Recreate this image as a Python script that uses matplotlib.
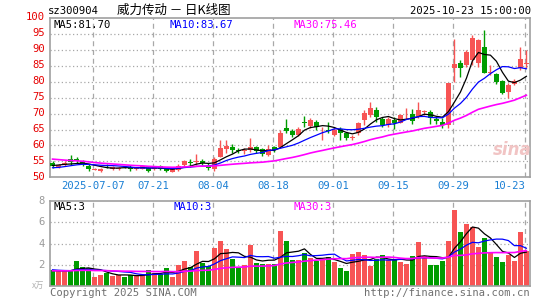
import numpy as np
import pandas as pd
import matplotlib
matplotlib.use("Agg")
import matplotlib.pyplot as plt

W, H = 545, 300

# closes / volumes of the 29 sessions before the window, only used to seed the moving averages
prior_close = [58.5, 59.2, 58.8, 58.0, 57.6, 58.3, 59.0, 58.4, 57.5, 57.0,
               56.8, 57.4, 56.9, 56.2, 55.8, 56.4, 55.9, 55.2, 54.6, 53.8,
               52.8, 52.1, 51.9, 52.4, 52.3, 53.0, 53.6, 54.1, 54.4]
prior_volume = [1.3, 1.6, 1.2, 1.5, 1.4, 1.7, 1.3, 1.2, 1.5, 1.6,
                1.4, 1.3, 1.1, 1.5, 1.2, 1.4, 1.6, 1.3, 1.2, 1.4,
                1.8, 1.6, 1.5, 1.4, 1.7, 1.5, 1.4, 1.3, 1.6]

opens = [54.4, 53.2, 53.9, 55.9, 55.6, 55.0, 53.6, 52.4, 52.0, 53.8,
         52.6, 52.6, 53.3, 53.0, 52.5, 52.7, 52.9, 52.5, 53.5, 52.6,
         51.8, 52.3, 53.9, 54.8, 54.8, 55.0, 53.6, 52.6, 56.5, 58.9,
         59.6, 58.5, 58.3, 58.5, 59.4, 58.8, 57.0, 59.6, 59.4, 65.5,
         64.6, 63.2, 67.5, 66.1, 67.4, 64.7, 65.0, 63.4, 65.3, 63.8,
         62.2, 63.8, 67.9, 69.5, 71.0, 68.4, 66.4, 67.9, 67.1, 69.8,
         69.9, 69.1, 70.5, 70.6, 68.3, 67.3, 66.5, 84.2, 86.0, 85.2,
         86.8, 85.8, 91.0, 82.6, 82.3, 80.2, 76.9, 79.2, 84.2, 85.5]
highs = [55.1, 54.2, 55.0, 57.0, 56.5, 55.5, 54.1, 53.0, 53.0, 54.3,
         53.4, 53.2, 53.5, 53.8, 53.3, 53.8, 53.2, 53.5, 53.8, 52.9,
         52.9, 54.1, 55.4, 55.9, 57.3, 55.7, 54.4, 56.5, 61.7, 61.7,
         60.3, 59.3, 59.1, 62.3, 59.9, 59.1, 60.1, 59.8, 65.0, 68.2,
         65.3, 65.8, 69.3, 68.6, 67.9, 65.8, 67.4, 65.8, 65.8, 64.3,
         63.2, 67.4, 71.0, 73.6, 72.1, 68.9, 69.0, 69.0, 70.0, 71.6,
         71.3, 73.5, 71.1, 71.1, 69.1, 68.5, 79.7, 93.5, 86.8, 89.9,
         94.6, 93.5, 96.1, 85.2, 82.6, 80.5, 79.5, 80.7, 90.9, 89.9]
lows = [52.8, 53.0, 53.7, 53.8, 54.6, 53.6, 52.0, 52.2, 51.8, 52.9,
        52.4, 52.3, 52.8, 52.0, 52.3, 52.5, 51.6, 52.3, 52.2, 51.6,
        51.6, 52.0, 53.5, 53.3, 53.9, 53.9, 52.3, 52.1, 56.3, 57.5,
        57.7, 57.5, 57.2, 58.0, 57.7, 56.7, 56.7, 58.0, 59.1, 63.8,
        62.7, 62.9, 65.8, 65.6, 64.8, 61.7, 63.8, 62.9, 61.7, 61.7,
        61.7, 63.2, 66.4, 69.0, 67.4, 65.8, 65.8, 65.3, 66.9, 68.4,
        66.8, 68.5, 69.6, 66.7, 66.7, 65.4, 65.4, 80.0, 81.6, 84.7,
        85.2, 84.7, 82.6, 82.1, 79.2, 76.0, 75.0, 79.0, 83.6, 84.2]
closes = [53.4, 53.8, 54.6, 54.7, 55.1, 54.1, 52.5, 52.6, 52.7, 53.4,
          53.1, 52.8, 53.1, 52.7, 53.1, 53.5, 52.1, 53.3, 52.6, 52.0,
          52.6, 53.6, 55.0, 54.4, 55.0, 54.4, 53.0, 55.9, 59.1, 59.9,
          58.5, 58.2, 58.5, 59.4, 58.3, 57.2, 58.9, 58.5, 63.8, 64.5,
          63.2, 65.3, 67.2, 67.9, 65.8, 64.9, 64.5, 65.0, 63.8, 62.2,
          62.7, 66.9, 70.2, 71.6, 68.8, 66.4, 68.4, 66.9, 69.5, 70.0,
          67.8, 71.0, 70.7, 68.5, 67.7, 66.4, 79.7, 85.7, 84.2, 89.4,
          93.6, 93.0, 82.6, 83.1, 79.8, 76.4, 79.0, 80.3, 87.0, 85.8]
volumes = [1.46, 1.37, 1.37, 1.37, 2.35, 1.78, 1.65, 0.83, 1.08, 1.27,
           0.92, 1.08, 0.86, 1.02, 0.98, 1.02, 1.46, 1.27, 1.14, 1.68,
           0.83, 1.97, 2.35, 1.81, 3.30, 2.16, 1.90, 3.62, 4.25, 3.49,
           2.54, 1.71, 1.97, 3.87, 2.16, 2.06, 2.06, 2.03, 5.21, 4.25,
           2.44, 2.44, 3.14, 2.60, 2.38, 2.44, 2.76, 2.29, 1.71, 1.40,
           3.02, 3.21, 2.92, 1.90, 2.54, 2.89, 2.44, 2.51, 2.29, 2.10,
           2.83, 4.16, 2.83, 2.00, 2.00, 2.35, 4.25, 7.14, 5.05, 5.81,
           5.52, 3.71, 4.48, 3.08, 2.76, 2.29, 2.92, 2.38, 5.05, 3.33]

date_idx = [7, 17, 27, 37, 47, 57, 67, 79]
date_labels = ["2025-07-07", "07-21", "08-04", "08-18", "09-01", "09-15", "09-29", "10-23"]
price_ticks = [50, 55, 60, 65, 70, 75, 80, 85, 90, 95, 100]
volume_ticks = [2, 4, 6, 8]

RED = "#f75454"
GREEN = "#009c00"
GRID = "#a8a8a8"
FRAME = "#a0a0a0"
MONO = "DejaVu Sans Mono"
CJK = ["Noto Sans CJK SC", "DejaVu Sans"]
FS = 7.6


def fx(x):
    return x / W


def fy(y):
    return 1 - y / H


def ma(prior, values, n):
    s = pd.Series(list(prior) + list(values))
    return s.rolling(n, min_periods=1).mean().to_numpy()[len(prior):]


n = len(closes)
idx = np.arange(n)
o = np.array(opens)
c = np.array(closes)
up = c >= o
colors = np.where(up, RED, GREEN)

fig = plt.figure(figsize=(W / 100, H / 100), dpi=100)

# pixel boxes of the two panels
ax = fig.add_axes([fx(50), fy(177.3), fx(480), 159.3 / H])
axv = fig.add_axes([fx(50), fy(286), fx(480), 85 / H])

xlim = (-0.42, n - 0.4)
for a in (ax, axv):
    a.set_xlim(*xlim)
    a.set_xticks([])
    a.set_yticks([])
    for sp in a.spines.values():
        sp.set_color(FRAME)
        sp.set_linewidth(1.2)
    for d in date_idx:
        a.axvline(d - 0.25, color=GRID, lw=0.9, ls=(0, (4, 3)), zorder=0)

# price panel
ax.set_ylim(50, 100)
for p in price_ticks[1:-1]:
    ax.axhline(p, color=GRID, lw=0.9, ls=(0, (1, 2)), zorder=0)
ax.vlines(idx, lows, highs, colors=colors, lw=1, zorder=2)
body = np.maximum(np.abs(c - o), 0.18)
ax.bar(idx, body, bottom=np.minimum(o, c), width=0.82, color=colors, lw=0, zorder=3)

ax.plot(idx, ma(prior_close, closes, 5), color="black", lw=0.9, zorder=4)
ax.plot(idx, ma(prior_close, closes, 10), color="#0000ff", lw=0.9, zorder=4)
ax.plot(idx, ma(prior_close, closes, 30), color="#ff00ff", lw=1.2, zorder=4)

for p in price_ticks:
    y = 177.3 - (p - 50) * 3.2
    fig.text(fx(45), fy(y), str(p), color="#e60000", fontsize=FS, family=MONO,
             ha="right", va="center")

# volume panel
axv.set_ylim(0, 8)
for v in volume_ticks[:-1]:
    axv.axhline(v, color=GRID, lw=0.9, ls=(0, (1, 2)), zorder=0)
axv.bar(idx, volumes, width=0.82, color=colors, lw=0, zorder=2)
axv.plot(idx, ma(prior_volume, volumes, 5), color="black", lw=0.9, zorder=3)
axv.plot(idx, ma(prior_volume, volumes, 10), color="#0000ff", lw=0.9, zorder=3)
axv.plot(idx, ma(prior_volume, volumes, 30), color="#ff00ff", lw=1.2, zorder=3)

for v in volume_ticks:
    y = 286 - v * 10.6
    fig.text(fx(45), fy(y), str(v), color="#9a9a9a", fontsize=FS, family=MONO,
             ha="right", va="center")
fig.text(fx(44), fy(285), "x万", color="#b0b0b0", fontsize=6, family=CJK,
         ha="right", va="center")

# date labels between the panels
for d, lab in zip(date_idx, date_labels):
    xp = 52.5 + 6 * (d - 0.25)
    ha = "right" if d == date_idx[-1] else "center"
    if ha == "right":
        xp += 1
    fig.text(fx(xp), fy(186), lab, color="#1a7fd4", fontsize=FS, family=MONO,
             ha=ha, va="center")

# header
fig.text(fx(48), fy(11), "sz300904", fontsize=FS, family=MONO, ha="left", va="center")
fig.text(fx(117), fy(10.5), "威力传动 － 日K线图", fontsize=9, family=CJK,
         ha="left", va="center")
fig.text(fx(531), fy(11), "2025-10-23 15:00:00", fontsize=FS, family=MONO,
         ha="right", va="center")

# moving-average legends
fig.text(fx(54), fy(24.5), "MA5:81.70", color="black", fontsize=FS, family=MONO, va="center")
fig.text(fx(170), fy(24.5), "MA10:83.67", color="#0000ff", fontsize=FS, family=MONO, va="center")
fig.text(fx(294), fy(24.5), "MA30:75.46", color="#ff00ff", fontsize=FS, family=MONO, va="center")
fig.text(fx(54), fy(206.5), "MA5:3", color="black", fontsize=FS, family=MONO, va="center")
fig.text(fx(174), fy(206.5), "MA10:3", color="#0000ff", fontsize=FS, family=MONO, va="center")
fig.text(fx(294), fy(206.5), "MA30:3", color="#ff00ff", fontsize=FS, family=MONO, va="center")

# footer and watermark
fig.text(fx(50), fy(293), "Copyright 2025 SINA.COM", color="#707070", fontsize=FS,
         family=MONO, ha="left", va="center")
fig.text(fx(530), fy(293), "http://finance.sina.com.cn", color="#707070", fontsize=FS,
         family=MONO, ha="right", va="center")
fig.text(fx(512), fy(150), "sina", color="#f1c4c4", fontsize=12, fontweight="bold",
         style="italic", ha="center", va="center")

fig.savefig("out.png", dpi=100)
